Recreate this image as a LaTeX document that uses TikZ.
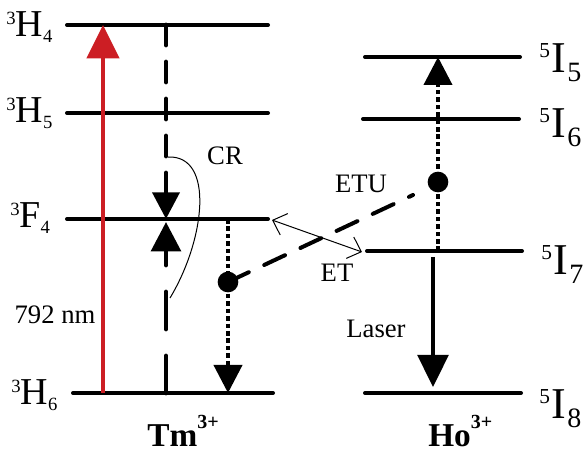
\documentclass[tikz,border=0pt]{standalone}
\usepackage{fontspec}
\setmainfont{Liberation Serif}
\usetikzlibrary{arrows.meta}
\definecolor{pumpred}{RGB}{204,30,36}
\newcommand{\tmlab}[3]{{\fontsize{28.5}{28.5}\selectfont{\fontsize{14}{14}\selectfont\raisebox{9.5pt}{#1}}#2{\fontsize{14}{14}\selectfont\raisebox{-3.8pt}{#3}}}}
\newcommand{\holab}[3]{{\fontsize{33}{33}\selectfont{\fontsize{16}{16}\selectfont\raisebox{11.5pt}{#1}}\kern1pt#2\kern1pt{\fontsize{21}{21}\selectfont\raisebox{-6.5pt}{#3}}}}
\newcommand{\ionlab}[1]{{\fontsize{25}{25}\selectfont\bfseries #1\raisebox{13pt}{\fontsize{15}{15}\selectfont 3+}}}
\begin{document}
\begin{tikzpicture}[x=0.75pt,y=-0.75pt,
  level/.style={line width=3pt, line cap=round},
  thinline/.style={line width=0.75pt},
  lab/.style={inner sep=0pt, anchor=base west},
  txt/.style={inner sep=0pt, font=\fontsize{20}{20}\selectfont},
  dotline/.style={line width=3pt, dash pattern=on 3.4pt off 2.2pt}]
\useasboundingbox (0,0) rectangle (586,452);
% Tm levels
\coordinate (h4a) at (67,25);  \coordinate (h4b) at (268,25);
\coordinate (h5a) at (67,113); \coordinate (h5b) at (268,113);
\coordinate (f4a) at (67,219); \coordinate (f4b) at (268,219);
\coordinate (h6a) at (73,393); \coordinate (h6b) at (273,393);
\draw[level] (h4a) -- (h4b);
\draw[level] (h5a) -- (h5b);
\draw[level] (f4a) -- (f4b);
\draw[level] (h6a) -- (h6b);
% Ho levels
\coordinate (i5a) at (365,57);  \coordinate (i5b) at (520,57);
\coordinate (i6a) at (363,119); \coordinate (i6b) at (519,119);
\coordinate (i7a) at (367,251); \coordinate (i7b) at (522,251);
\coordinate (i8a) at (365,393); \coordinate (i8b) at (521,393);
\draw[level] (i5a) -- (i5b);
\draw[level] (i6a) -- (i6b);
\draw[level] (i7a) -- (i7b);
\draw[level] (i8a) -- (i8b);
% level labels
\node[lab] (lh4) at (6,37)   {\tmlab{3}{H}{4}};
\node[lab] (lh5) at (6,123)  {\tmlab{3}{H}{5}};
\node[lab] (lf4) at (10,228) {\tmlab{3}{F}{4}};
\node[lab] (lh6) at (11,405) {\tmlab{3}{H}{6}};
\node[lab] (li5) at (539,73)  {\holab{5}{I}{5}};
\node[lab] (li6) at (539,138) {\holab{5}{I}{6}};
\node[lab] (li7) at (541,275) {\holab{5}{I}{7}};
\node[lab] (li8) at (539,419) {\holab{5}{I}{8}};
\node[lab] (tm) at (147,446) {\ionlab{Tm}};
\node[lab] (ho) at (428,446) {\ionlab{Ho}};
% pump arrow
\coordinate (redS) at (103,393); \coordinate (redE) at (103,25);
\draw[pumpred, line width=3.2pt, -{Triangle[length=25pt,width=24pt]}] (redS) -- (redE);
\node[txt] (nm) at (55,315) {792 nm};
% cross relaxation
\coordinate (crdS) at (166,25); \coordinate (crdE) at (166,219);
\draw[line width=3.6pt, line cap=round, dash pattern=on 15pt off 12.75pt,
      -{Triangle[length=20pt,width=20pt]}] (crdS) -- (crdE);
\coordinate (cruS) at (166,393); \coordinate (cruE) at (166,222);
\draw[line width=3.6pt, line cap=round, dash pattern=on 27.75pt off 20.25pt,
      -{Triangle[length=22pt,width=22pt]}] (cruS) -- (cruE);
\coordinate (crA) at (168,157); \coordinate (crB) at (170,298);
\draw[thinline] (crA) .. controls (215,155) and (205,240) .. (crB);
\node[txt] (cr) at (225,156) {CR};
% Tm decay + ET
\coordinate (tdS) at (228,219); \coordinate (tdE) at (228,393);
\draw[dotline, -{Triangle[length=21pt,width=21pt]}] (tdS) -- (tdE);
\node[circle, fill=black, inner sep=0pt, minimum size=15.5pt] (tmdot) at (228,282) {};
\coordinate (etuEnd) at (413,195);
\draw[line width=3pt, line cap=round, dash pattern=on 17.25pt off 12.75pt] (tmdot.center) -- (etuEnd);
\coordinate (etA) at (272,220); \coordinate (etB) at (362,252);
\draw[thinline, {Straight Barb[length=9pt,width=17pt]}-{Straight Barb[length=9pt,width=17pt]}] (etA) -- (etB);
\node[txt] (et) at (337,273) {ET};
\node[txt] (etu) at (361,184) {ETU};
% Ho ETU
\coordinate (huS) at (438,251); \coordinate (huE) at (438,57);
\draw[dotline, -{Triangle[length=21pt,width=21pt]}] (huS) -- (huE);
\node[circle, fill=black, inner sep=0pt, minimum size=15.5pt] (hodot) at (438,182) {};
% laser
\coordinate (lzS) at (433,257); \coordinate (lzE) at (433,387);
\draw[line width=2.8pt, -{Triangle[length=24pt,width=23pt]}] (lzS) -- (lzE);
\node[txt] (laser) at (376,329) {Laser};
\end{tikzpicture}
\end{document}
